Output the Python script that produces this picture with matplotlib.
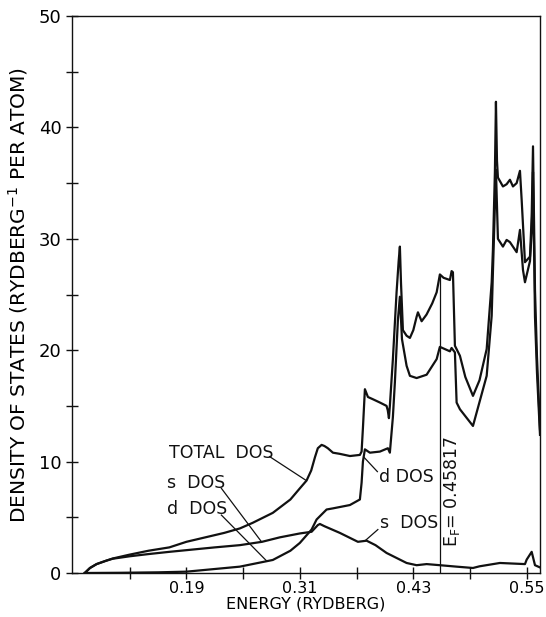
import numpy as np
import matplotlib
matplotlib.use("Agg")
import matplotlib.pyplot as plt
from matplotlib.ticker import FixedLocator

# values (energy in Rydberg, DOS per Rydberg per atom)
total_e = [0.0825, 0.088, 0.095, 0.105, 0.112, 0.13, 0.15, 0.172, 0.19, 0.21, 0.23, 0.2465,
           0.26, 0.2814, 0.30, 0.31, 0.3171, 0.322, 0.326, 0.329, 0.333, 0.336, 0.3396, 0.345,
           0.352, 0.363, 0.3735, 0.3753, 0.3767, 0.3788, 0.382, 0.3872, 0.3947, 0.4017, 0.403,
           0.4042, 0.4052, 0.4084, 0.4123, 0.4145, 0.4158, 0.417, 0.419, 0.4229, 0.4264, 0.43,
           0.4335, 0.4349, 0.4388, 0.444, 0.45, 0.4547, 0.4581, 0.462, 0.4687, 0.4705, 0.4719,
           0.474, 0.4793, 0.485, 0.4931, 0.50, 0.5076, 0.5129, 0.5142, 0.5163, 0.5174, 0.5185,
           0.5195, 0.5248, 0.5287, 0.5322, 0.5354, 0.5393, 0.5428, 0.5446, 0.5481, 0.5534,
           0.5552, 0.5566, 0.5587, 0.5608, 0.564]
total_dos = [0, 0.45, 0.8, 1.1, 1.3, 1.65, 2.0, 2.3, 2.8, 3.2, 3.6, 4.0,
             4.5, 5.4, 6.6, 7.6, 8.3, 9.2, 10.4, 11.2, 11.5, 11.4, 11.2, 10.8,
             10.7, 10.5, 10.6, 10.9, 13.0, 16.5, 15.8, 15.6, 15.3, 15.0, 14.6,
             13.9, 15.0, 19.2, 25.2, 28.0, 29.3, 26.0, 21.8, 21.3, 21.1, 21.8,
             23.0, 23.4, 22.6, 23.2, 24.2, 25.2, 26.8, 26.5, 26.3, 27.1, 27.0,
             20.4, 19.5, 17.6, 15.9, 17.3, 20.1, 26.1, 29.0, 36.0, 42.3, 37.0,
             35.5, 34.7, 34.9, 35.3, 34.7, 35.0, 36.1, 33.5, 27.9, 28.4,
             32.0, 38.3, 25.4, 19.4, 12.9]

d_e = [0.0825, 0.12, 0.16, 0.19, 0.2465, 0.2814, 0.30, 0.31, 0.3224, 0.3277, 0.3312, 0.3383,
       0.3449, 0.3629, 0.3735, 0.3753, 0.3767, 0.3788, 0.3841, 0.3947, 0.4031, 0.4052, 0.4084,
       0.4105, 0.4137, 0.4158, 0.418, 0.4229, 0.4264, 0.4335, 0.4441, 0.4547, 0.4581, 0.4687,
       0.4705, 0.474, 0.4758, 0.4793, 0.4931, 0.5076, 0.5129, 0.5142, 0.5163, 0.5174, 0.5195,
       0.5248, 0.5287, 0.5322, 0.5393, 0.5428, 0.546, 0.5481, 0.5534, 0.5552, 0.5566, 0.5587,
       0.5608, 0.564]
d_dos = [0, 0.02, 0.06, 0.12, 0.57, 1.17, 2.0, 2.7, 3.9, 4.8, 5.1, 5.7,
         5.8, 6.1, 6.6, 8.1, 10.0, 11.1, 10.8, 10.9, 11.2, 10.8, 14.0,
         17.1, 22.7, 24.8, 21.0, 18.6, 17.7, 17.5, 17.8, 19.2, 20.3, 19.9,
         20.2, 19.8, 15.3, 14.7, 13.2, 17.7, 23.1, 27.0, 33.0, 36.2, 30.0,
         29.3, 29.9, 29.7, 28.8, 30.8, 27.2, 26.1, 28.0, 30.6, 36.0, 23.0,
         18.0, 12.4]

s_e = [0.0825, 0.088, 0.095, 0.105, 0.112, 0.13, 0.15, 0.172, 0.19, 0.22, 0.2465, 0.27,
       0.2888, 0.31, 0.3224, 0.329, 0.3312, 0.336, 0.3523, 0.3714, 0.3806, 0.39, 0.4017,
       0.4123, 0.4229, 0.4335, 0.4441, 0.4581, 0.4758, 0.4931, 0.50, 0.5216, 0.5481, 0.5499,
       0.5552, 0.5587, 0.564]
s_dos = [0, 0.45, 0.8, 1.1, 1.28, 1.5, 1.7, 1.9, 2.05, 2.3, 2.5, 2.8,
         3.2, 3.55, 3.7, 4.3, 4.4, 4.2, 3.6, 2.8, 2.9, 2.5, 1.8,
         1.35, 0.9, 0.7, 0.8, 0.7, 0.57, 0.45, 0.6, 0.9, 0.8, 1.2,
         1.9, 0.7, 0.5]

fermi = 0.45817
xticks_major = [0.19, 0.31, 0.43, 0.55]
xticks_minor = [0.13, 0.25, 0.37, 0.49]
yticks_major = [0, 10, 20, 30, 40, 50]
yticks_minor = [5, 15, 25, 35, 45]

plt.rcParams['font.family'] = ['DejaVu Sans']

fig = plt.figure(figsize=(5.46, 6.17), dpi=100)
ax = fig.add_axes([72 / 546, 44 / 617, 468 / 546, 557 / 617])

ink = '#111111'
ax.plot(total_e, total_dos, color=ink, lw=1.6)
ax.plot(d_e, d_dos, color=ink, lw=1.6)
ax.plot(s_e, s_dos, color=ink, lw=1.6)

# Fermi level marker, up to the total curve
ax.plot([fermi, fermi], [0, np.interp(fermi, total_e, total_dos)], color=ink, lw=0.9)
ax.text(fermi + 0.013, 2.3, r'E$_\mathregular{F}$= 0.45817', rotation=90,
        ha='center', va='bottom', fontsize=12.5, color=ink)

# curve labels with leader lines
def label(txt, tx, ty, lx, ly, px, curve_e, curve_v):
    ax.text(tx, ty, txt, ha='left', va='center', fontsize=12.5, color=ink)
    ax.plot([lx, px], [ly, np.interp(px, curve_e, curve_v)], color=ink, lw=0.9)

label('TOTAL  DOS', 0.172, 10.8, 0.278, 10.45, 0.317, total_e, total_dos)
label('s  DOS', 0.169, 8.1, 0.227, 7.6, 0.2695, s_e, s_dos)
label('d  DOS', 0.170, 5.75, 0.227, 5.2, 0.2751, d_e, d_dos)
label('d DOS', 0.3935, 8.6, 0.392, 9.1, 0.3775, d_e, d_dos)
label('s  DOS', 0.3945, 4.5, 0.3925, 3.9, 0.3788, s_e, s_dos)

ax.set_xlim(0.069, 0.564)
ax.set_ylim(0, 50)
ax.xaxis.set_major_locator(FixedLocator(xticks_major))
ax.xaxis.set_minor_locator(FixedLocator(xticks_minor))
ax.yaxis.set_major_locator(FixedLocator(yticks_major))
ax.yaxis.set_minor_locator(FixedLocator(yticks_minor))
ax.set_xticklabels(['0.19', '0.31', '0.43', '0.55'])
ax.tick_params(which='both', direction='inout', length=9, width=1.0, color=ink)
ax.tick_params(axis='x', labelsize=11.5, pad=1)
ax.tick_params(axis='y', labelsize=13, pad=3)
for sp in ax.spines.values():
    sp.set_linewidth(1.0)
    sp.set_color(ink)

ax.set_xlabel('ENERGY (RYDBERG)', fontsize=11.5, labelpad=0.5)
ax.set_ylabel(r'DENSITY OF STATES (RYDBERG$^{-1}$ PER ATOM)', fontsize=14.5, labelpad=6)

fig.savefig('out.png', dpi=100)
